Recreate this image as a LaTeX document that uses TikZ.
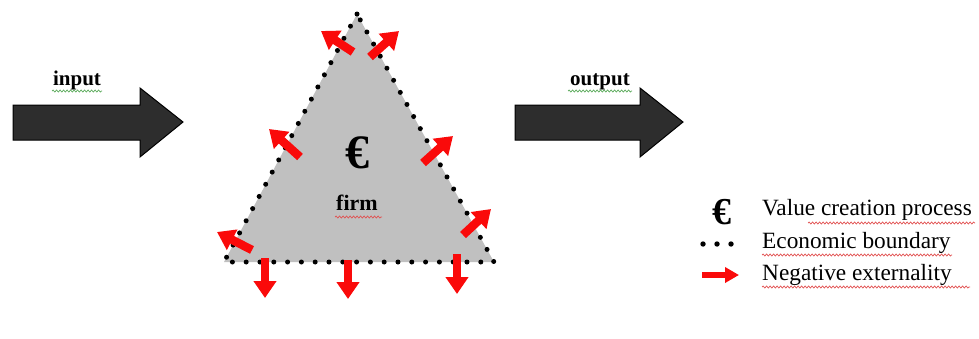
\documentclass[tikz,border=0pt]{standalone}
\usepackage{fontspec}
\setmainfont{Liberation Serif}
\usetikzlibrary{arrows.meta,decorations.pathmorphing}
\definecolor{firmgray}{RGB}{192,192,192}
\definecolor{arrowdark}{RGB}{45,45,45}
\definecolor{extred}{RGB}{250,10,10}
\definecolor{spellred}{RGB}{225,80,80}
\definecolor{spellgreen}{RGB}{90,170,90}
\begin{document}
\begin{tikzpicture}[x=1pt,y=-1pt,
  bigarrow/.style={fill=arrowdark,draw=black,line width=1pt},
  boundary/.style={draw=black,line width=5pt,line cap=round,dash pattern=on 0pt off 13.8pt},
  extarrow/.style={draw=extred,line width=8.5pt,-{Triangle[length=17pt,width=22pt]}},
  legarrow/.style={draw=extred,line width=5.5pt,-{Triangle[length=14pt,width=15pt]}},
  lbl/.style={font=\fontsize{21}{24}\selectfont\bfseries,anchor=base,inner sep=0pt},
  legtext/.style={font=\fontsize{23.3}{26}\selectfont,anchor=base west,inner sep=0pt},
  eurosym/.style={font=\bfseries,anchor=base,inner sep=0pt},
  squig/.style={decorate,decoration={snake,amplitude=1pt,segment length=3.5pt},line width=0.7pt}]
\useasboundingbox (0,0) rectangle (979,338);

% input / output arrows
\draw[bigarrow] (13,105) -- (140,105) -- (140,88) -- (183,122) -- (140,157) -- (140,140) -- (13,140) -- cycle;
\draw[bigarrow] (515,105) -- (640,105) -- (640,88) -- (683,122) -- (640,157) -- (640,140) -- (515,140) -- cycle;
\node[lbl] (input) at (77,85) {input};
\node[lbl] (output) at (600,85) {output};
\draw[squig,spellgreen] (52,91) -- (102,91);
\draw[squig,spellgreen] (568,91) -- (632,91);

% firm triangle
\coordinate (tl) at (224,262);
\coordinate (tt) at (357,14);
\coordinate (tr) at (494,262);
\fill[firmgray] (tl) -- (tt) -- (tr) -- cycle;
\draw[boundary] (tt) -- (tl) -- (tr) -- (tt);
\node[eurosym,font=\fontsize{48}{52}\selectfont\bfseries] (euro) at (357,168) {€};
\node[lbl,font=\fontsize{22}{26}\selectfont\bfseries] (firm) at (357,210) {firm};
\draw[squig,spellred] (335,217) -- (382,217);

% negative externalities
\coordinate (a1s) at (353,52);  \coordinate (a1e) at (321,31);
\coordinate (a2s) at (370,57);  \coordinate (a2e) at (399,31);
\coordinate (a3s) at (300,157); \coordinate (a3e) at (269,129);
\coordinate (a4s) at (423,163); \coordinate (a4e) at (453,136);
\coordinate (a5s) at (463,235); \coordinate (a5e) at (491,209);
\coordinate (a6s) at (252,250); \coordinate (a6e) at (217,232);
\coordinate (a7s) at (265,258); \coordinate (a7e) at (265,298);
\coordinate (a8s) at (348,260); \coordinate (a8e) at (348,299);
\coordinate (a9s) at (457,254); \coordinate (a9e) at (457,294);
\foreach \i in {1,...,9} \draw[extarrow] (a\i s) -- (a\i e);

% legend
\node[eurosym,font=\fontsize{38}{42}\selectfont\bfseries] (legeuro) at (722,224) {€};
\node[legtext] (leg1) at (762,215) {Value creation process};
\coordinate (d1) at (703,244);
\coordinate (d2) at (717,244);
\coordinate (d3) at (731,244);
\foreach \d in {d1,d2,d3} \fill (\d) circle (2.7);
\node[legtext] (leg2) at (762,248) {Economic boundary};
\coordinate (ls) at (702,275); \coordinate (le) at (739,275);
\draw[legarrow] (ls) -- (le);
\node[legtext] (leg3) at (762,280) {Negative externality};
\draw[squig,spellred] (808,223) -- (975,223);
\draw[squig,spellred] (762,255) -- (952,255);
\draw[squig,spellred] (762,287) -- (970,287);
\end{tikzpicture}
\end{document}
